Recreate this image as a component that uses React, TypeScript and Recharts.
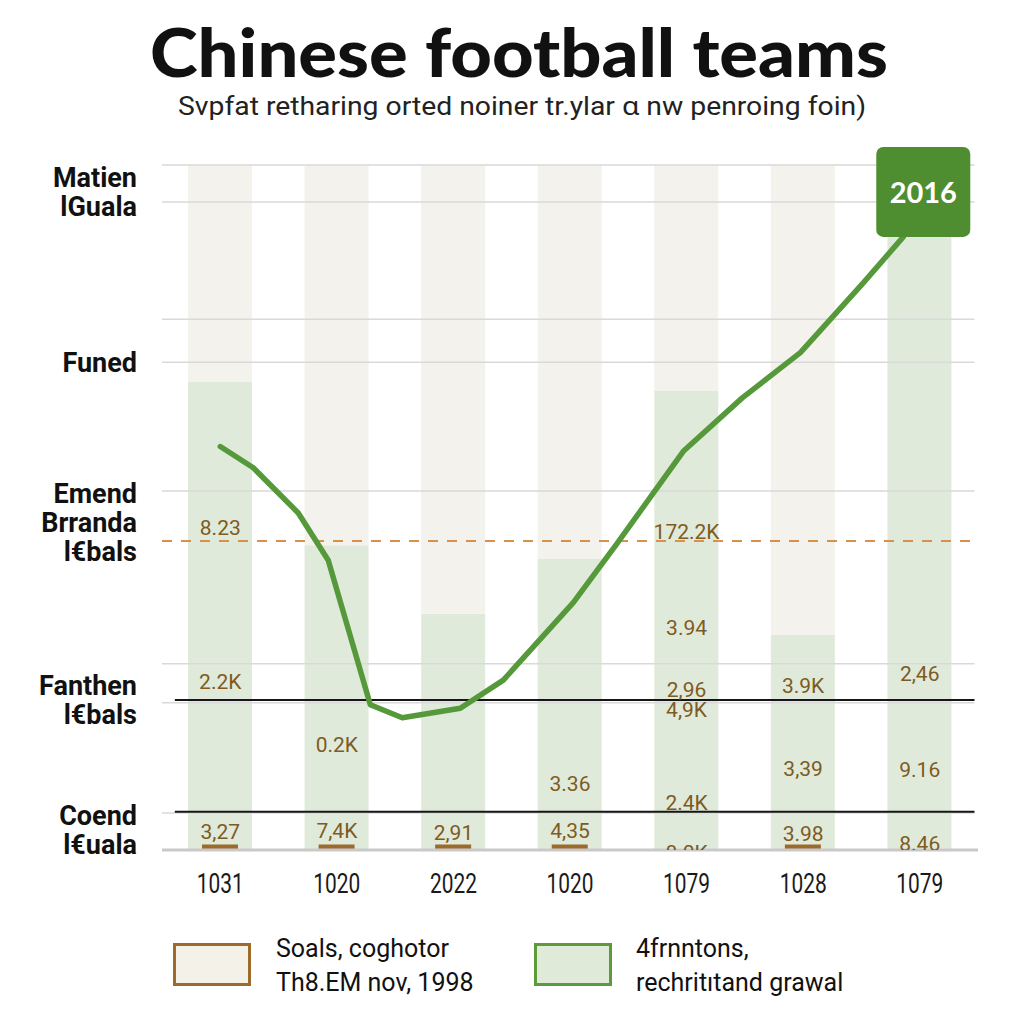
import React from 'react';
import { ComposedChart, Bar, Line, Scatter, XAxis, YAxis, ReferenceLine } from 'recharts';

// ---------- data ----------
const categories = ['1031', '1020', '2022', '1020', '1079', '1028', '1079'];
const greenValues = [68.4, 44.5, 34.5, 42.5, 67.0, 31.4, 96];
const markerValues = [0.8, 0.8, 0.8, 0.8, 0, 0.8, 0];
const totalValue = 100;

const lineX = [0, 0.283, 0.669, 0.926, 1.287, 1.561, 2.059, 2.428, 3.028, 3.406, 3.972, 4.478, 4.976, 5.516, 5.859];
const lineY = [58.9, 55.8, 49.2, 42.3, 21.2, 19.3, 20.7, 24.8, 36.1, 44.8, 58.2, 66.0, 72.6, 82.8, 89.5];
const peakLabel = '2016';

const labelCat = [0, 0, 0, 1, 1, 2, 3, 3, 4, 4, 4, 4, 4, 4, 5, 5, 5, 6, 6, 6];
const labelY = [47.0, 24.5, 2.6, 15.3, 2.8, 2.5, 9.6, 2.8, 46.4, 32.4, 23.4, 20.4, 6.9, -0.5, 23.9, 11.8, 2.3, 25.7, 11.7, 0.9];
const labelText = ['8.23', '2.2K', '3,27', '0.2K', '7,4K', '2,91', '3.36', '4,35', '172.2K', '3.94', '2,96', '4,9K', '2.4K', '8.0K', '3.9K', '3,39', '3.98', '2,46', '9.16', '8.46'];

const yTickValues = [96.8, 69.8, 50.7, 22.6, 3.6];
const yTickLabels = [['Matien', 'lGuala'], ['Funed'], ['Emend', 'Brranda', 'l€bals'], ['Fanthen', 'l€bals'], ['Coend', 'l€uala']];

const gridValues = [100, 94.6, 77.5, 71.2, 52.4, 27.2, 21.5, 5.4];
const blackLineValues = [21.9, 5.6];
const dashedValue = 45.1;

const titleText = 'Chinese football teams';
const subtitleText = 'Svpfat retharing orted noiner tr.ylar \u0251 nw penroing foin)';
const legendLeft = ['Soals, coghotor', 'Th8.EM nov, 1998'];
const legendRight = ['4frnntons,', 'rechrit\u0131tand grawal'];

// ---------- derived tables ----------
const barData = categories.map((c, i) => ({
  k: 'c' + i,
  green: greenValues[i],
  rest: totalValue - greenValues[i],
  mark: markerValues[i],
}));
const lineData = lineX.map((x, i) => ({ x, y: lineY[i] }));
const labelData = labelText.map((t, i) => ({ x: labelCat[i], y: labelY[i], t }));

const C = {
  beige: '#f4f2ec',
  green: '#e0eada',
  brown: '#9c6a2a',
  labelBrown: '#7e5b22',
  line: '#55993a',
  box: '#4f8e30',
  grid: '#d9d9d9',
};

const sans = 'Roboto, "Noto Sans", sans-serif';
const PLOT_LEFT = 162;

const XTick = (props: any) => {
  const { x, y, payload } = props;
  const idx = parseInt(String(payload.value).slice(1), 10);
  return (
    <text x={x} y={y + 43} textAnchor="middle" fontFamily={sans} fontSize={27} fill="#1a1a1a"
      textLength={47} lengthAdjust="spacingAndGlyphs">
      {categories[idx]}
    </text>
  );
};

const YTick = (props: any) => {
  const { y, index } = props;
  const lines = yTickLabels[index] || [];
  return (
    <g>
      {lines.map((l, i) => (
        <text key={i} x={PLOT_LEFT - 25} y={y + i * 29} textAnchor="end" fontFamily={sans} fontWeight={700}
          fontSize={27} fill="#111">
          {l}
        </text>
      ))}
    </g>
  );
};

const LabelShape = (props: any) => {
  const { cx, cy, payload } = props;
  return (
    <text x={cx} y={cy} textAnchor="middle" dominantBaseline="central" fontFamily={sans}
      fontSize={21} fill={C.labelBrown}>
      {payload.t}
    </text>
  );
};

const renderDot = (p: any) => {
  if (p.index !== lineData.length - 1) return <g key={'d' + p.index} />;
  const { cx, cy } = p;
  return (
    <g key="peak">
      <rect x={cx - 27} y={cy - 90} width={94} height={90} rx={7} fill={C.box} />
      <text x={cx + 20} y={cy - 45} textAnchor="middle" dominantBaseline="central" fill="#fff"
        fontFamily='Lato, "Open Sans", sans-serif' fontWeight={700} fontSize={29}>
        {peakLabel}
      </text>
    </g>
  );
};

export default function App() {
  return (
    <div style={{ position: 'absolute', left: 0, top: 0, width: 1024, height: 1024, background: '#fff', overflow: 'hidden' }}>
      <ComposedChart
        width={1024}
        height={1024}
        data={barData}
        margin={{ top: 165, right: 46, bottom: 114, left: 12 }}
      >
        <XAxis xAxisId="cat" dataKey="k" height={60} tick={<XTick />} tickLine={false} tickSize={0} tickMargin={0}
          axisLine={{ stroke: '#c9c9c9', strokeWidth: 3 }} interval={0} />
        <XAxis xAxisId="cat2" dataKey="k" hide />
        <XAxis xAxisId="lx" type="number" dataKey="x" domain={[-0.5, 6.5]} hide />
        <YAxis yAxisId="main" domain={[0, 100]} ticks={yTickValues} width={150} tick={<YTick />}
          tickLine={false} axisLine={false} tickSize={0} tickMargin={0} interval={0} />
        <YAxis yAxisId="lbl" dataKey="y" domain={[0, 100]} allowDataOverflow hide />

        <Bar xAxisId="cat" yAxisId="main" dataKey="green" stackId="s" fill={C.green} barSize={64} isAnimationActive={false} />
        <Bar xAxisId="cat" yAxisId="main" dataKey="rest" stackId="s" fill={C.beige} barSize={64} isAnimationActive={false} />
        <Bar xAxisId="cat2" yAxisId="main" dataKey="mark" fill={C.brown} barSize={36} isAnimationActive={false} />

        {gridValues.map((v, i) => (
          <ReferenceLine key={'g' + i} xAxisId="lx" yAxisId="main"
            segment={[{ x: -0.5, y: v }, { x: 6.47, y: v }]} stroke={C.grid} strokeWidth={1.5} />
        ))}
        {blackLineValues.map((v, i) => (
          <ReferenceLine key={'b' + i} xAxisId="lx" yAxisId="main"
            segment={[{ x: -0.39, y: v }, { x: 6.47, y: v }]} stroke="#151515" strokeWidth={2} />
        ))}
        <ReferenceLine xAxisId="lx" yAxisId="main" segment={[{ x: -0.5, y: dashedValue }, { x: 6.47, y: dashedValue }]}
          stroke="#d9904a" strokeWidth={2} strokeDasharray="10 9" />

        <Scatter xAxisId="lx" yAxisId="lbl" data={labelData} shape={<LabelShape />} isAnimationActive={false} />

        <Line xAxisId="lx" yAxisId="main" data={lineData} dataKey="y" type="linear" stroke={C.line}
          strokeWidth={5.5} strokeLinejoin="round" strokeLinecap="round" dot={renderDot} activeDot={false}
          isAnimationActive={false} />
      </ComposedChart>

      <svg width={1024} height={1024} style={{ position: 'absolute', left: 0, top: 0, pointerEvents: 'none' }}>
        <text x={519} y={77} textAnchor="middle" fontFamily='Lato, "Open Sans", sans-serif' fontWeight={900}
          fontSize={66} fill="#111" textLength={738} lengthAdjust="spacingAndGlyphs">
          {titleText}
        </text>
        <text x={522} y={115} textAnchor="middle" fontFamily={sans} fontSize={26} fill="#222"
          textLength={688} lengthAdjust="spacingAndGlyphs">
          {subtitleText}
        </text>

        <rect x={174.5} y={944.5} width={75} height={40} fill="#f4f1e9" stroke={C.brown} strokeWidth={3} />
        {legendLeft.map((t, i) => (
          <text key={'ll' + i} x={276} y={957 + i * 34} fontFamily={sans} fontSize={25} fill="#111">{t}</text>
        ))}
        <rect x={535.5} y={944.5} width={75} height={40} fill="#e0ead8" stroke="#5c9a3c" strokeWidth={3} />
        {legendRight.map((t, i) => (
          <text key={'lr' + i} x={636} y={957 + i * 34} fontFamily={sans} fontSize={25} fill="#111">{t}</text>
        ))}
      </svg>
    </div>
  );
}
